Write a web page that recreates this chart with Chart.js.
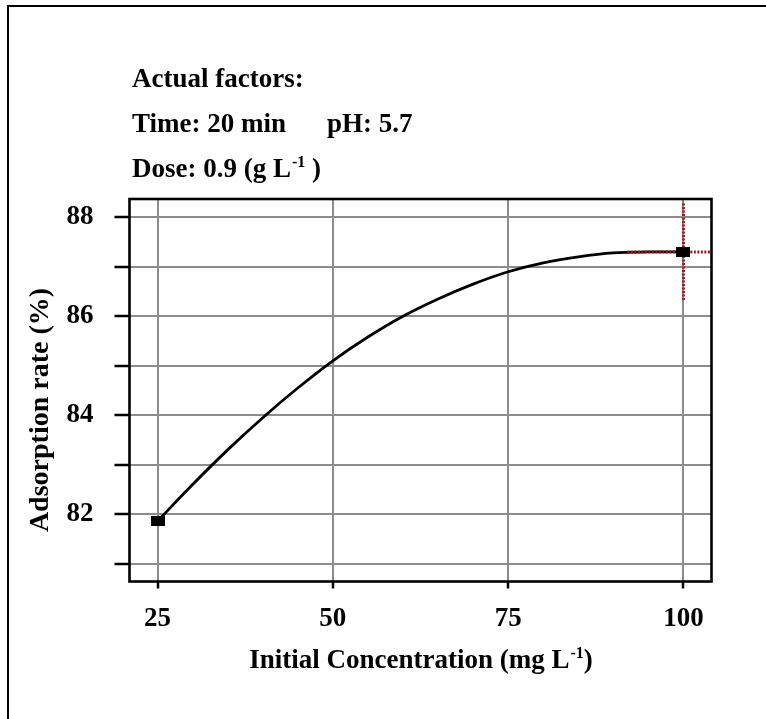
<!DOCTYPE html>
<html>
<head>
<meta charset="utf-8">
<script src="https://cdn.jsdelivr.net/npm/chart.js@4.4.0/dist/chart.umd.min.js"></script>
<style>
  html, body { margin: 0; padding: 0; background: #fff; }
  #wrap { width: 766px; height: 719px; position: relative; }
</style>
</head>
<body>
<div id="wrap"><canvas id="chart" width="766" height="719"></canvas></div>
<script>
// Data
const concentration = [25, 30, 35, 40, 45, 50, 55, 60, 65, 70, 75, 80, 85, 90, 95, 100];
const adsorption = [81.86, 82.6, 83.3, 83.95, 84.55, 85.1, 85.58, 86.0, 86.35, 86.65, 86.9, 87.08, 87.2, 87.28, 87.3, 87.3];

// end markers
const markerX = [25, 100];
const markerY = [81.86, 87.3];

// red dotted reference lines at the optimum
const refVertX = [100, 100];
const refVertY = [88.28, 86.33];
const refHorzX = [92, 104];
const refHorzY = [87.3, 87.3];

const xTicks = [25, 50, 75, 100];
const yTicks = [81, 82, 83, 84, 85, 86, 87, 88];
const yLabelled = [82, 84, 86, 88];

const factorLines = ['Actual factors:', 'Time: 20 min', 'pH: 5.7', 'Dose: 0.9 (g L'];
const yTitle = 'Adsorption rate (%)';
const xTitle = 'Initial Concentration (mg L';

const FONT = '"Liberation Serif", "Times New Roman", serif';
const TXT = 27;

function pairs(xs, ys) {
    return xs.map((x, i) => ({ x: x, y: ys[i] }));
}

// small black rectangle used as the marker
const markerImg = document.createElement('canvas');
markerImg.width = 14;
markerImg.height = 10;
const mctx = markerImg.getContext('2d');
mctx.fillStyle = '#000';
mctx.fillRect(0, 0, 14, 10);

// text with a "-1" superscript after it, returns full width
function supWidth(ctx, text, size, tail) {
    ctx.save();
    ctx.font = 'bold ' + size + 'px ' + FONT;
    let w = ctx.measureText(text).width + ctx.measureText(tail).width;
    ctx.font = 'bold ' + Math.round(size * 0.6) + 'px ' + FONT;
    w += 1 + ctx.measureText('-1').width;
    ctx.restore();
    return w;
}

function drawSup(ctx, text, x, y, size, tail) {
    ctx.font = 'bold ' + size + 'px ' + FONT;
    ctx.fillText(text, x, y);
    let w = ctx.measureText(text).width;
    ctx.font = 'bold ' + Math.round(size * 0.6) + 'px ' + FONT;
    ctx.fillText('-1', x + w + 1, y - size * 0.38);
    w += 1 + ctx.measureText('-1').width;
    ctx.font = 'bold ' + size + 'px ' + FONT;
    ctx.fillText(tail, x + w, y);
}

const textPlugin = {
    id: 'textPlugin',
    beforeDraw(chart) {
        const ctx = chart.ctx;
        ctx.save();
        // outer frame (only top and left edges show)
        ctx.strokeStyle = '#000';
        ctx.lineWidth = 2;
        ctx.beginPath();
        ctx.moveTo(8, 719);
        ctx.lineTo(8, 6);
        ctx.lineTo(766, 6);
        ctx.stroke();
        ctx.restore();
    },
    afterDraw(chart) {
        const ctx = chart.ctx;
        const a = chart.chartArea;
        ctx.save();
        // plot frame
        ctx.strokeStyle = '#000';
        ctx.lineWidth = 2.6;
        ctx.strokeRect(a.left, a.top, a.right - a.left, a.bottom - a.top);

        ctx.fillStyle = '#000';
        ctx.textAlign = 'left';
        ctx.textBaseline = 'alphabetic';
        ctx.font = 'bold ' + TXT + 'px ' + FONT;
        ctx.fillText(factorLines[0], 132, 87);
        ctx.fillText(factorLines[1], 132, 132);
        ctx.fillText(factorLines[2], 327, 132);
        drawSup(ctx, factorLines[3], 132, 177, TXT, ' )');

        // x axis title
        const w = supWidth(ctx, xTitle, TXT, ')');
        drawSup(ctx, xTitle, 421 - w / 2, 668, TXT, ')');

        // y axis title
        ctx.translate(48, 410);
        ctx.rotate(-Math.PI / 2);
        ctx.textAlign = 'center';
        ctx.font = 'bold 28px ' + FONT;
        ctx.fillText(yTitle, 0, 0);
        ctx.restore();
    }
};

new Chart(document.getElementById('chart'), {
    type: 'line',
    data: {
        datasets: [
            {
                data: pairs(markerX, markerY),
                showLine: false,
                pointStyle: markerImg,
                pointRadius: 7,
                order: 0
            },
            {
                data: pairs(refVertX, refVertY),
                borderColor: '#9e1a1f',
                borderWidth: 3,
                borderDash: [2, 1.5],
                pointRadius: 0,
                order: 1
            },
            {
                data: pairs(refHorzX, refHorzY),
                borderColor: '#9e1a1f',
                borderWidth: 3,
                borderDash: [2, 1.5],
                pointRadius: 0,
                order: 1
            },
            {
                data: pairs(concentration, adsorption),
                borderColor: '#000',
                borderWidth: 2.8,
                pointRadius: 0,
                tension: 0.4,
                order: 2
            }
        ]
    },
    options: {
        responsive: false,
        animation: false,
        clip: false,
        layout: { padding: { top: 199, right: 54.5, left: 0, bottom: 0 } },
        plugins: {
            legend: { display: false },
            tooltip: { enabled: false }
        },
        scales: {
            x: {
                type: 'linear',
                min: 21,
                max: 104,
                afterBuildTicks: s => { s.ticks = xTicks.map(v => ({ value: v })); },
                afterFit: s => { s.height = 137.5; },
                border: { display: false },
                grid: {
                    color: '#8c8c8c',
                    lineWidth: 2,
                    tickLength: 7,
                    tickColor: '#000',
                    tickWidth: 2.5
                },
                ticks: {
                    color: '#000',
                    padding: 14,
                    maxRotation: 0,
                    font: { family: FONT, size: TXT, weight: 'bold' }
                }
            },
            y: {
                min: 80.64,
                max: 88.37,
                afterBuildTicks: s => { s.ticks = yTicks.map(v => ({ value: v })); },
                afterFit: s => { s.width = 129.5; },
                border: { display: false },
                grid: {
                    color: '#8c8c8c',
                    lineWidth: 2,
                    tickLength: 15,
                    tickColor: '#000',
                    tickWidth: 2.5
                },
                ticks: {
                    color: '#000',
                    padding: 21,
                    font: { family: FONT, size: TXT, weight: 'bold' },
                    callback: v => (yLabelled.includes(v) ? String(v) : '')
                }
            }
        }
    },
    plugins: [textPlugin]
});
</script>
</body>
</html>
